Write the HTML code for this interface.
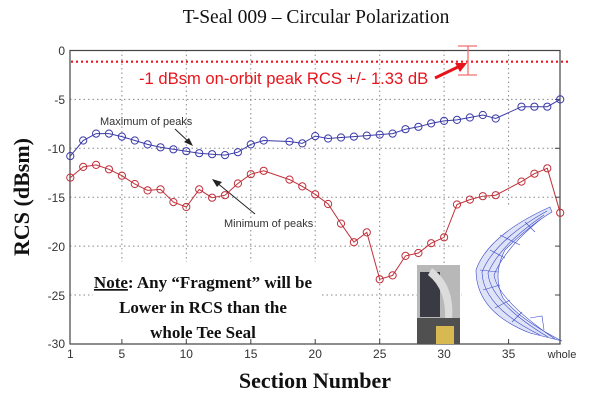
<!DOCTYPE html>
<html><head><meta charset="utf-8"><style>
html,body{margin:0;padding:0;background:#fff;}
svg{display:block;}
</style></head><body>
<svg width="600" height="408" viewBox="0 0 600 408" xmlns="http://www.w3.org/2000/svg">
<rect width="600" height="408" fill="#fff"/>
<text x="316" y="23" font-family="Liberation Serif, serif" font-size="19.5" text-anchor="middle" fill="#111">T-Seal 009 – Circular Polarization</text>
<g stroke="#888" stroke-width="1" stroke-dasharray="1.5,3">
<line x1="121.9" y1="50" x2="121.9" y2="344"/>
<line x1="186.3" y1="50" x2="186.3" y2="344"/>
<line x1="250.8" y1="50" x2="250.8" y2="344"/>
<line x1="315.2" y1="50" x2="315.2" y2="344"/>
<line x1="379.7" y1="50" x2="379.7" y2="344"/>
<line x1="444.1" y1="50" x2="444.1" y2="344"/>
<line x1="508.6" y1="50" x2="508.6" y2="344"/>
<line x1="70" y1="99.4" x2="560" y2="99.4"/>
<line x1="70" y1="148.3" x2="560" y2="148.3"/>
<line x1="70" y1="197.2" x2="560" y2="197.2"/>
<line x1="70" y1="246.1" x2="560" y2="246.1"/>
<line x1="70" y1="295" x2="560" y2="295"/>
</g>
<rect x="93" y="262" width="226" height="81" fill="#fff"/>
<rect x="462" y="206" width="97" height="137" fill="#fff"/>
<rect x="70" y="50.5" width="490" height="293.5" fill="none" stroke="#444" stroke-width="1.2"/>
<g stroke="#444" stroke-width="1">
<line x1="121.9" y1="344" x2="121.9" y2="339"/><line x1="186.3" y1="344" x2="186.3" y2="339"/><line x1="250.8" y1="344" x2="250.8" y2="339"/><line x1="315.2" y1="344" x2="315.2" y2="339"/><line x1="379.7" y1="344" x2="379.7" y2="339"/><line x1="444.1" y1="344" x2="444.1" y2="339"/><line x1="508.6" y1="344" x2="508.6" y2="339"/>
<line x1="555" y1="99.4" x2="560" y2="99.4"/><line x1="555" y1="148.3" x2="560" y2="148.3"/><line x1="555" y1="197.2" x2="560" y2="197.2"/><line x1="555" y1="246.1" x2="560" y2="246.1"/><line x1="555" y1="295" x2="560" y2="295"/>
</g>
<g font-family="Liberation Sans, sans-serif" font-size="12" fill="#333" text-anchor="end">
<text x="65" y="55">0</text><text x="65" y="104">-5</text><text x="65" y="153">-10</text><text x="65" y="202">-15</text><text x="65" y="251">-20</text><text x="65" y="300">-25</text><text x="65" y="348">-30</text>
</g>
<g font-family="Liberation Sans, sans-serif" font-size="12" fill="#333" text-anchor="middle">
<text x="70.3" y="358">1</text><text x="121.9" y="358">5</text><text x="186.3" y="358">10</text><text x="250.8" y="358">15</text><text x="315.2" y="358">20</text><text x="379.7" y="358">25</text><text x="444.1" y="358">30</text><text x="508.6" y="358">35</text><text x="562" y="358" font-size="11">whole</text>
</g>
<text x="315" y="388" font-family="Liberation Serif, serif" font-size="22" font-weight="bold" text-anchor="middle" fill="#111">Section Number</text>
<text transform="translate(29,197) rotate(-90)" font-family="Liberation Serif, serif" font-size="22" font-weight="bold" text-anchor="middle" fill="#111">RCS (dBsm)</text>
<line x1="71" y1="61.7" x2="570" y2="61.7" stroke="#e8141c" stroke-width="2.2" stroke-dasharray="2,3"/>
<text x="139" y="84" font-family="Liberation Sans, sans-serif" font-size="16.6" fill="#e8141c">-1 dBsm on-orbit peak RCS +/- 1.33 dB</text>
<g stroke="#f07070" stroke-width="1.3"><line x1="468" y1="46" x2="468" y2="75"/><line x1="458" y1="46" x2="477" y2="46"/><line x1="458" y1="75" x2="477" y2="75"/></g>
<line x1="435" y1="78" x2="460" y2="66" stroke="#e8141c" stroke-width="3"/>
<polygon points="467,63 455,63 460,72" fill="#e8141c"/>
<rect x="417" y="265" width="43" height="79" fill="#b8b8b8"/>
<rect x="420" y="272" width="20" height="45" fill="#3a3a44"/>
<path d="M432 268 Q455 285 452 320 L445 322 Q447 290 428 275Z" fill="#dcdcdc"/>
<rect x="417" y="318" width="43" height="26" fill="#505050"/>
<rect x="436" y="326" width="18" height="18" fill="#d8b850"/>
<g fill="none" stroke="#3a4ac8" stroke-width="0.6">
<path d="M550 207 Q488 235 476 270 Q476 312 530 333 L562 341 Q520 320 503 298 Q492 275 505 250 Q530 225 552 212Z" fill="#dfe3f7"/>
<path d="M547 211 Q495 240 482 272 Q483 307 540 335"/>
<path d="M544 215 Q500 245 488 273 Q490 302 548 337"/>
<path d="M541 219 Q505 248 494 275 Q498 300 555 339"/>
<path d="M500 235 L520 245 M490 250 L505 258 M480 270 L498 272 M483 290 L500 285 M495 308 L510 300 M512 322 L522 312 M525 222 L535 232"/>
<path d="M530 318 L542 316 L544 330"/>
</g>
<text x="100" y="125" font-family="Liberation Sans, sans-serif" font-size="11" fill="#333">Maximum of peaks</text>
<line x1="175" y1="129" x2="190" y2="143" stroke="#222" stroke-width="1"/>
<polygon points="193,146 184,142 189,138" fill="#222"/>
<text x="224" y="227" font-family="Liberation Sans, sans-serif" font-size="11" fill="#333">Minimum of peaks</text>
<line x1="255" y1="214" x2="216" y2="182" stroke="#222" stroke-width="1"/>
<polygon points="212,179 222,182 217,187" fill="#222"/>
<g font-family="Liberation Serif, serif" font-size="17" font-weight="bold" fill="#111" text-anchor="middle">
<text x="203" y="288"><tspan text-decoration="underline">Note</tspan>: Any “Fragment” will be</text>
<text x="203" y="313">Lower in RCS than the</text>
<text x="203" y="338">whole Tee Seal</text>
</g>
<g fill="none" stroke="#3a3aa8" stroke-width="1">
<polyline points="70.3,156.1 83.2,140.5 96.1,133.6 109,133.6 121.9,136.6 134.8,140.5 147.6,144.4 160.5,147.3 173.4,149.3 186.3,151.2 199.2,153.2 212.1,154.2 225,155.1 237.9,152.2 250.8,144.4 263.7,140.5 289.5,141.5 302.3,143.4 315.2,136.1 328.1,138.5 341,137.5 353.9,136.6 366.8,135.6 379.7,134.6 392.6,133.6 405.5,129.2 418.4,126.8 431.2,123.4 444.1,120.9 457,119.9 469.9,117.5 482.8,115 495.7,118.5 521.5,106.7 534.4,106.7 547.3,106.7 560.2,99.4"/>
<g>
<circle cx="70.3" cy="156.1" r="3.6"/><circle cx="83.2" cy="140.5" r="3.6"/><circle cx="96.1" cy="133.6" r="3.6"/><circle cx="109" cy="133.6" r="3.6"/><circle cx="121.9" cy="136.6" r="3.6"/><circle cx="134.8" cy="140.5" r="3.6"/><circle cx="147.6" cy="144.4" r="3.6"/><circle cx="160.5" cy="147.3" r="3.6"/><circle cx="173.4" cy="149.3" r="3.6"/><circle cx="186.3" cy="151.2" r="3.6"/><circle cx="199.2" cy="153.2" r="3.6"/><circle cx="212.1" cy="154.2" r="3.6"/><circle cx="225" cy="155.1" r="3.6"/><circle cx="237.9" cy="152.2" r="3.6"/><circle cx="250.8" cy="144.4" r="3.6"/><circle cx="263.7" cy="140.5" r="3.6"/><circle cx="289.5" cy="141.5" r="3.6"/><circle cx="302.3" cy="143.4" r="3.6"/><circle cx="315.2" cy="136.1" r="3.6"/><circle cx="328.1" cy="138.5" r="3.6"/><circle cx="341" cy="137.5" r="3.6"/><circle cx="353.9" cy="136.6" r="3.6"/><circle cx="366.8" cy="135.6" r="3.6"/><circle cx="379.7" cy="134.6" r="3.6"/><circle cx="392.6" cy="133.6" r="3.6"/><circle cx="405.5" cy="129.2" r="3.6"/><circle cx="418.4" cy="126.8" r="3.6"/><circle cx="431.2" cy="123.4" r="3.6"/><circle cx="444.1" cy="120.9" r="3.6"/><circle cx="457" cy="119.9" r="3.6"/><circle cx="469.9" cy="117.5" r="3.6"/><circle cx="482.8" cy="115" r="3.6"/><circle cx="495.7" cy="118.5" r="3.6"/><circle cx="521.5" cy="106.7" r="3.6"/><circle cx="534.4" cy="106.7" r="3.6"/><circle cx="547.3" cy="106.7" r="3.6"/><circle cx="560.2" cy="99.4" r="3.6"/>
</g></g>
<g fill="none" stroke="#c0303a" stroke-width="1">
<polyline points="70.3,177.6 83.2,166.9 96.1,164.9 109,169.3 121.9,175.7 134.8,184 147.6,190.4 160.5,189.4 173.4,202.1 186.3,207 199.2,189.4 212.1,197.7 225,195.2 237.9,183.5 250.8,174.2 263.7,170.8 289.5,179.6 302.3,186.4 315.2,194.3 328.1,204 341,223.6 353.9,242.2 366.8,232.4 379.7,279.3 392.6,275.4 405.5,255.9 418.4,253 431.2,243.2 444.1,237.3 457,204.5 469.9,199.6 482.8,196.2 495.7,195.2 521.5,181.6 534.4,173.7 547.3,168.3 560.2,212.8"/>
<g>
<circle cx="70.3" cy="177.6" r="3.6"/><circle cx="83.2" cy="166.9" r="3.6"/><circle cx="96.1" cy="164.9" r="3.6"/><circle cx="109" cy="169.3" r="3.6"/><circle cx="121.9" cy="175.7" r="3.6"/><circle cx="134.8" cy="184" r="3.6"/><circle cx="147.6" cy="190.4" r="3.6"/><circle cx="160.5" cy="189.4" r="3.6"/><circle cx="173.4" cy="202.1" r="3.6"/><circle cx="186.3" cy="207" r="3.6"/><circle cx="199.2" cy="189.4" r="3.6"/><circle cx="212.1" cy="197.7" r="3.6"/><circle cx="225" cy="195.2" r="3.6"/><circle cx="237.9" cy="183.5" r="3.6"/><circle cx="250.8" cy="174.2" r="3.6"/><circle cx="263.7" cy="170.8" r="3.6"/><circle cx="289.5" cy="179.6" r="3.6"/><circle cx="302.3" cy="186.4" r="3.6"/><circle cx="315.2" cy="194.3" r="3.6"/><circle cx="328.1" cy="204" r="3.6"/><circle cx="341" cy="223.6" r="3.6"/><circle cx="353.9" cy="242.2" r="3.6"/><circle cx="366.8" cy="232.4" r="3.6"/><circle cx="379.7" cy="279.3" r="3.6"/><circle cx="392.6" cy="275.4" r="3.6"/><circle cx="405.5" cy="255.9" r="3.6"/><circle cx="418.4" cy="253" r="3.6"/><circle cx="431.2" cy="243.2" r="3.6"/><circle cx="444.1" cy="237.3" r="3.6"/><circle cx="457" cy="204.5" r="3.6"/><circle cx="469.9" cy="199.6" r="3.6"/><circle cx="482.8" cy="196.2" r="3.6"/><circle cx="495.7" cy="195.2" r="3.6"/><circle cx="521.5" cy="181.6" r="3.6"/><circle cx="534.4" cy="173.7" r="3.6"/><circle cx="547.3" cy="168.3" r="3.6"/><circle cx="560.2" cy="212.8" r="3.6"/>
</g></g>
</svg>
</body></html>
